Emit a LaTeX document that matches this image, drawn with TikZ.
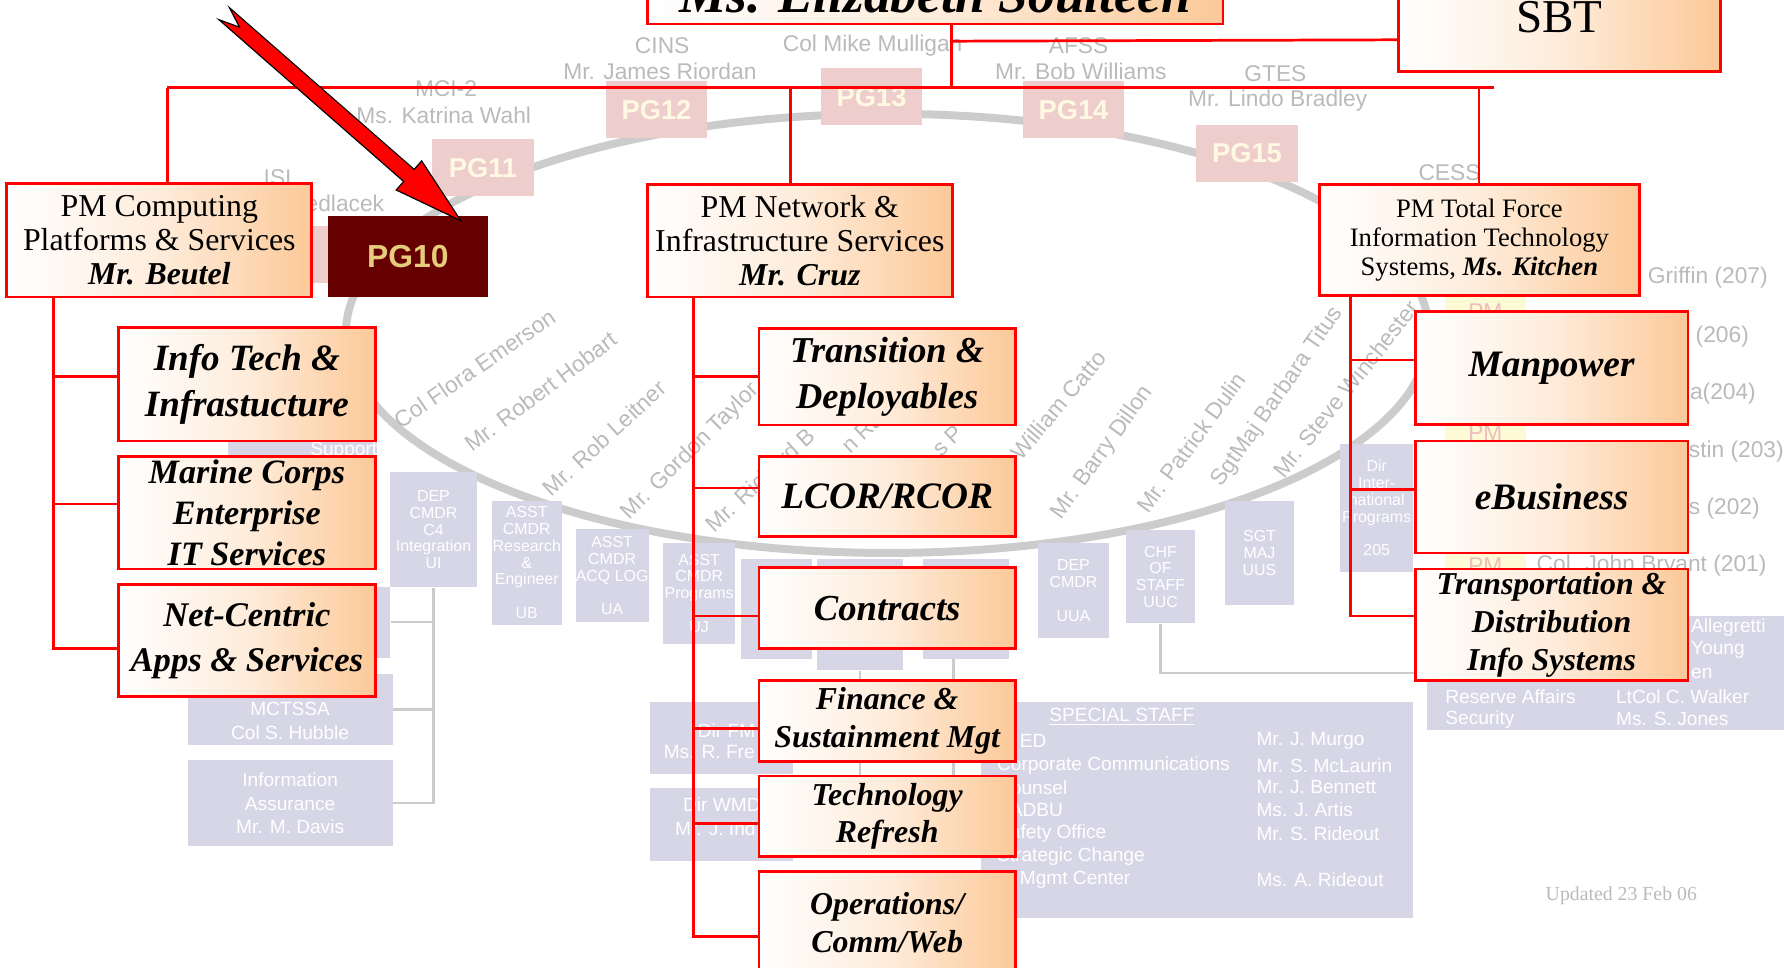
\documentclass[tikz,border=0pt]{standalone}
\usepackage{fontspec}
\setmainfont{Liberation Serif}
\setsansfont{Liberation Sans}
\usetikzlibrary{calc}

\definecolor{peach}{RGB}{252,201,152}
\definecolor{pgdark}{RGB}{102,0,0}
\definecolor{pggold}{RGB}{228,204,124}
\definecolor{ghost}{RGB}{186,186,186}
\definecolor{ringgray}{RGB}{204,204,204}
\definecolor{lilac}{RGB}{214,214,231}
\definecolor{pgpink}{RGB}{238,205,205}
\definecolor{pgcream}{RGB}{255,249,226}
\definecolor{paleyel}{RGB}{255,250,214}
\definecolor{pmpink}{RGB}{238,188,188}

\tikzset{
  orgbox/.style={draw=red,line width=1.2pt,left color=white,right color=peach,middle color=peach!35,inner sep=0pt},
  boxtext/.style={inner sep=0pt,align=center},
  link/.style={red,line width=1.2pt},
  ghostline/.style={ringgray,line width=1pt},
  ghosttext/.style={text=ghost,inner sep=0pt,font=\sffamily\fontsize{10}{12}\selectfont},
  lilacbox/.style={fill=lilac,inner sep=0pt,text=white,align=center,font=\sffamily\fontsize{7}{7.4}\selectfont},
  lilactext/.style={text=white,inner sep=0pt,align=center,font=\sffamily\fontsize{8.4}{10.5}\selectfont},
  pgbox/.style={fill=pgpink,text=pgcream,inner sep=0pt,minimum width=44.5pt,minimum height=25pt,font=\sffamily\bfseries\fontsize{12}{14}\selectfont}
}

\begin{document}
\begin{tikzpicture}[x=0.5pt,y=-0.5pt,>=latex]
\useasboundingbox (0,0) rectangle (1568,850);
%%%%%%%%%%%%%%%%%%%%%%%%%%%%%%%%%%%%%%%%%% faded chart behind
\draw[ringgray,line width=3.5pt] (780,293) ellipse [x radius=238pt,y radius=96.5pt];
\foreach \n/\x/\y/\t in {pgnine/279.5/224/{},pgeleven/424.5/147.5/PG11,pgtwelve/577/96.5/PG12,pgthirteen/766/85/PG13,pgfourteen/943.5/96.5/PG14,pgfifteen/1096/135/PG15}
{
    \node[pgbox] (\n) at (\x,\y) {\t};
}
\foreach \t/\x/\y [count=\i] in {MCI-2/392/78,Ms. Katrina Wahl/390/101,CINS/582/40,Mr. James Riordan/580/63,Col Mike Mulligan/767/40,AFSS/948/40,Mr. Bob Williams/950/63,GTES/1121/65,Mr. Lindo Bradley/1123/88,CESS/1274/152,ISI/244/156}
{
    \node[ghosttext] (top\i) at (\x,\y) {\t};
}
\node[ghosttext,anchor=east] (sedl) at (338,179) {Sedlacek};
\foreach \t/\x/\y/\a [count=\i] in {Col Flora Emerson/417/324/34.5,Mr. Robert Hobart/475/344/36.8,Mr. Rob Leitner/531/385/42.5,Mr. Gordon Taylor/607/397/44.8,Mr. Richard B/668/422/42.7,n Ra/758/380/43,s P/833/387/43,William Catto/930/356/50,Mr. Barry Dillon/969/398/54.3,Mr. Patrick Dulin/1047/389/53.7,SgtMaj Barbara Titus/1123/349/55.2,Mr. Steve Winchester/1183/342/51.3}
{
    \node[ghosttext,rotate=\a] (arc\i) at (\x,\y) {\t};
}
%% pale column on the right
\foreach \n/\ya/\yb in {pmone/250/298,pmtwo/360/400,pmthree/478/516}
{
    \node[fill=paleyel,text=pmpink,inner sep=0pt,minimum width=35.5pt,minimum height={(\yb-\ya)*0.5pt},font=\sffamily\fontsize{10}{12}\selectfont] (\n) at (1305.5,{(\ya+\yb)/2}) {PM};
}
\foreach \t/\x/\y [count=\i] in {Griffin (207)/1448/244,(206)/1490/296,a(204)/1485/346,stin (203)/1484/397,s (202)/1484/447}
{
    \node[ghosttext,anchor=west] (rank\i) at (\x,\y) {\t};
}
\node[ghosttext,anchor=east] (bryant) at (1553,497) {Col. John Bryant (201)};
%% lilac boxes
\foreach \n/\xa/\ya/\xb/\yb/\t in {
    cmdcfour/343/415/419/516/{DEP\\CMDR\\C4\\Integration\\UI},
    cmdre/432/440/494/549/{ASST\\CMDR\\Research\\\&\\Engineer\\~\\UB},
    cmdal/506/465/570/547/{ASST\\CMDR\\ACQ LOG\\~\\UA},
    cmdpr/583/477/646/566/{ASST\\CMDR\\Programs\\~\\UJ},
    bfive/651/491/714/579/{},
    bsix/718/491/794/589/{},
    bseven/811/491/887/579/{},
    depcmdr/912/477/975/561/{DEP\\CMDR\\~\\UUA},
    cos/990/466/1050/548/{CHF\\OF\\STAFF\\UUC},
    sgtmaj/1077/440/1137/532/{SGT\\MAJ\\UUS},
    dirip/1178/390/1242/503/{Dir\\Inter-\\national\\Programs\\~\\205},
    suppbox/200/372/331/402/{},
    sidebox/165/516/343/578/{},
    mctssa/165/592/345/655/{},
    iabox/165/668/345/744/{},
    dirfm/571/617/697/680/{},
    dirwmd/571/693/697/757/{},
    sstaff/862/617/1242/807/{},
    resv/1254/541/1568/642/{}}
{
    \node[lilacbox,minimum width={(\xb-\xa)*0.5pt},minimum height={(\yb-\ya)*0.5pt}] (\n) at ({(\xa+\xb)/2},{(\ya+\yb)/2}) {\t};
}
\node[lilactext,anchor=east] (supp) at (332,396) {Support};
\node[lilactext] (mctssa-t) at (255,634) {MCTSSA\\Col S. Hubble};
\node[lilactext] (iabox-t) at (iabox.center) {Information\\Assurance\\Mr. M. Davis};
\foreach \t/\x/\y [count=\i] in {Dir FM/613/642,Ms. R. Fre/583/661,Dir WMD/600/707,Mr. J. Ind/593/728}
{
    \node[lilactext,anchor=west] (dir\i) at (\x,\y) {\t};
}
\node[lilactext] (ss-head) at (986,630) {\underline{SPECIAL STAFF}};
\foreach \t/\x/\y [count=\i] in {ED/896/651,Corporate Communications/876/673,Counsel/876/692,SADBU/876/712,Safety Office/876/733,Strategic Change/876/753,Mgmt Center/896/773}
{
    \node[lilactext,anchor=west] (ssl\i) at (\x,\y) {\t};
}
\foreach \t/\y [count=\i] in {Mr. J. Murgo/651,Mr. S. McLaurin/673,Mr. J. Bennett/692,Ms. J. Artis/712,Mr. S. Rideout/733,Ms. A. Rideout/773}
{
    \node[lilactext,anchor=west] (ssr\i) at (1104,\y) {\t};
}
\foreach \t/\x/\y [count=\i] in {Allegretti/1486/552,Young/1486/571,en/1486/592,Reserve Affairs/1270/612,Security/1270/632,LtCol C. Walker/1420/612,Ms. S. Jones/1420/632}
{
    \node[lilactext,anchor=west] (rsv\i) at (\x,\y) {\t};
}
\draw[ghostline] (cmdcfour.south) |- (iabox.east);
\draw[ghostline] (cmdcfour.south |- sidebox.east) -- (sidebox.east);
\draw[ghostline] (cmdcfour.south |- mctssa.east) -- (mctssa.east);
\draw[ghostline] (cos.south) |- (resv.west);
\coordinate (bsixend) at (756,700);
\coordinate (bsevenend) at (838,700);
\draw[ghostline] (bsix.south) -- (bsixend);
\draw[ghostline] (bsevenend |- bseven.south) -- (bsevenend);
\node[text=ghost,inner sep=0pt,font=\fontsize{8.7}{10}\selectfont] (updated) at (1425,787) {Updated 23 Feb 06};
%%%%%%%%%%%%%%%%%%%%%%%%%%%%%%%%%%%%%%%%%% red chart
\node[orgbox,minimum width=253pt,minimum height=26pt] (chief) at (822,-5) {};
\node[boxtext,font=\bfseries\itshape\fontsize{23.4}{28}\selectfont] (chief-t) at (chief.center) {Ms. Elizabeth Soulteen};
\node[orgbox,minimum width=141.5pt,minimum height=48pt] (sbt) at (1370.5,15) {};
\node[boxtext,font=\fontsize{20.7}{24}\selectfont] (sbt-t) at (sbt.center) {SBT};
\node[orgbox,minimum width=134pt,minimum height=50pt] (pmcps) at (140,211) {};
\node[boxtext,font=\fontsize{14}{14.8}\selectfont] (pmcps-t) at (pmcps.center) {PM Computing\\Platforms \& Services\\\textbf{\textit{Mr. Beutel}}};
\node[orgbox,minimum width=134pt,minimum height=49.5pt] (pmnis) at (703,211.5) {};
\node[boxtext,font=\fontsize{14}{14.8}\selectfont] (pmnis-t) at (pmnis.center) {PM Network \&\\Infrastructure Services\\\textbf{\textit{Mr. Cruz}}};
\node[orgbox,minimum width=140.75pt,minimum height=49pt] (pmtf) at (1300.25,211) {};
\node[boxtext,font=\fontsize{11.7}{12.6}\selectfont] (pmtf-t) at (pmtf.center) {PM Total Force\\Information Technology\\Systems, \textbf{\textit{Ms. Kitchen}}};
\coordinate (busL) at (147,77);
\coordinate (busM) at (695,77);
\coordinate (busC) at (836,77);
\coordinate (busT) at (1300,77);
\coordinate (busR) at (1313,77);
\draw[link] (busL) -- (busR);
\draw[link] (chief.south -| busC) -- (busC);
\draw[link] ($(chief.south -| busC)+(0,14)$) -- ($(sbt.west)+(0,20)$);
\foreach \b/\n in {busL/pmcps,busM/pmnis,busT/pmtf}
{
    \draw[link] (\b) -- (\b |- \n.north);
}
%% left column
\foreach \n/\cy/\h/\dy/\fs/\bs/\t in {itbox/337.75/49.75/3.4/16.3/20/{Info Tech \&\\Infrastucture},mcbox/450.5/49.5/3.75/15/18/{Marine Corps\\Enterprise\\IT Services},ncbox/563/49/-3.5/15.2/20/{Net-Centric\\Apps \& Services}}
{
    \node[orgbox,minimum width=113pt,minimum height=\h pt] (\n) at (217,\cy) {};
    \node[boxtext,font=\bfseries\itshape\fontsize{\fs}{\bs}\selectfont] (\n-t) at (\n.center) {\t};
    \draw[link] ([xshift=21pt]pmcps.south west) |- ([yshift=\dy pt]\n.west);
}
%% middle column
\foreach \n/\cy/\h/\dy/\fs/\bs/\t in {trbox/331/42.5/0/16/20/{Transition \&\\Deployables},lcbox/436.5/35.15/3.75/16.4/20/{LCOR/RCOR},ctbox/534.5/35.5/-3.5/16.1/20/{Contracts},fsbox/633.5/35.5/-3.25/14/16.5/{Finance \&\\Sustainment Mgt},tcbox/717.5/35.5/-3.25/14/16.5/{Technology\\Refresh},opbox/811/44.75/-6/14/16.5/{Operations/\\Comm/Web}}
{
    \node[orgbox,minimum width=112.75pt,minimum height=\h pt] (\n) at (779.75,\cy) {};
    \node[boxtext,font=\bfseries\itshape\fontsize{\fs}{\bs}\selectfont] (\n-t) at (\n.center) {\t};
    \draw[link] ([xshift=21pt]pmnis.south west) |- ([yshift=\dy pt]\n.west);
}
%% right column
\foreach \n/\cy/\h/\dy/\fs/\bs/\t in {mpbox/323.5/49.5/3.5/16.4/20/{Manpower},ebbox/436.75/49.25/3.4/16.4/20/{eBusiness},tdbox/549/49/3.75/14/16.75/{Transportation \&\\Distribution\\Info Systems}}
{
    \node[orgbox,minimum width=119.75pt,minimum height=\h pt] (\n) at (1363.75,\cy) {};
    \node[boxtext,font=\bfseries\itshape\fontsize{\fs}{\bs}\selectfont] (\n-t) at (\n.center) {\t};
    \draw[link] ([xshift=14.25pt]pmtf.south west) |- ([yshift=\dy pt]\n.west);
}
%%%%%%%%%%%%%%%%%%%%%%%%%%%%%%%%%%%%%%%%%% PG10 and the pointer
\node[fill=pgdark,text=pggold,inner sep=0pt,minimum width=70.5pt,minimum height=35.5pt,font=\sffamily\bfseries\fontsize{14}{16}\selectfont] (pgten) at (358.5,225.5) {PG10};
\filldraw[fill=red,draw=black,line width=0.5pt,line join=miter] (192.4,17.3) -- (210.5,23.9) -- (201.6,6.7) -- (364.0,148.9) -- (370.6,141.4) -- (405,194) -- (348.2,167.0) -- (354.8,159.5) -- cycle;
\end{tikzpicture}
\end{document}
